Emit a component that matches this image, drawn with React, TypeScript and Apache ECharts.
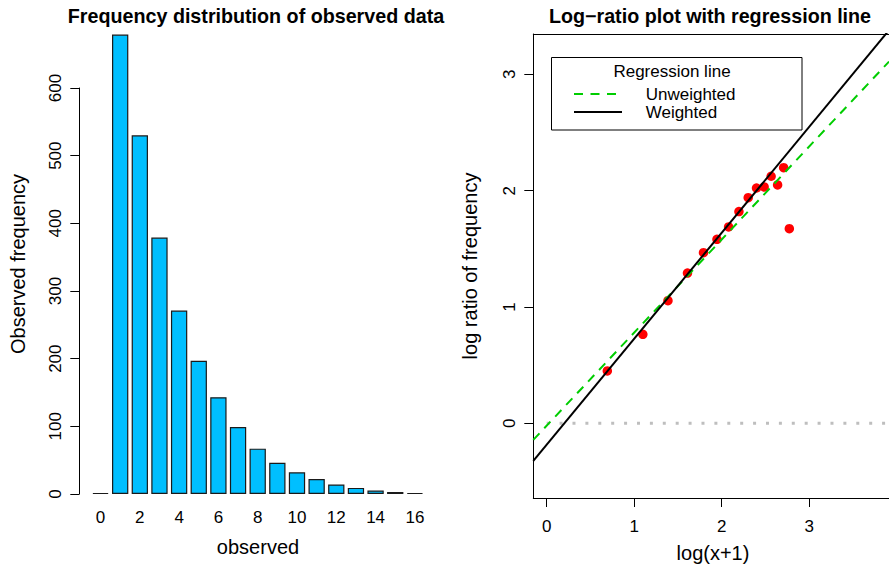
import React, { useEffect, useRef } from 'react';
import * as echarts from 'echarts';

// ---- Left panel data ----
const categories = ['0', '1', '2', '3', '4', '5', '6', '7', '8', '9', '10', '11', '12', '13', '14', '15', '16'];
const observedFreq = [0, 679, 530, 379, 271, 197, 143, 99, 67, 46, 32, 22, 14, 9, 5, 3, 1];
const leftYTicks = [0, 100, 200, 300, 400, 500, 600];

// ---- Right panel data ----
const logX = [0.693, 1.099, 1.386, 1.609, 1.792, 1.946, 2.079, 2.197, 2.303, 2.398, 2.485, 2.565, 2.639, 2.708, 2.773];
const logRatio = [0.45, 0.765, 1.054, 1.292, 1.467, 1.582, 1.688, 1.82, 1.94, 2.023, 2.032, 2.124, 2.049, 2.198, 1.673];
const rightXTicks = [0, 1, 2, 3];
const rightYTicks = [0, 1, 2, 3];
// regression lines: [intercept, slope]
const weightedFit = [-0.184, 0.911];
const unweightedFit = [-0.02, 0.8];

const FONT = 'Liberation Sans, Arial, Helvetica, sans-serif';
const X_MIN = -0.153;
const X_MAX = 3.912;
const Y_MIN = -0.642;
const Y_MAX = 3.347;

function fitLine(fit: number[]) {
  return [
    [X_MIN, fit[0] + fit[1] * X_MIN],
    [X_MAX, fit[0] + fit[1] * X_MAX],
  ];
}

function txt(text: string, x: number, y: number, size: number, opts: any = {}) {
  return {
    type: 'text',
    x,
    y,
    rotation: opts.rotation || 0,
    style: {
      text,
      fill: '#000',
      fontSize: size,
      fontFamily: FONT,
      fontWeight: opts.bold ? 'bold' : 'normal',
      align: opts.align || 'center',
      verticalAlign: 'middle',
      textAlign: opts.align || 'center',
      textVerticalAlign: 'middle',
    },
    z: 100,
  };
}

export default function App() {
  const ref = useRef<HTMLDivElement>(null);
  useEffect(() => {
    const chart = echarts.init(ref.current!, null, { renderer: 'svg' });
    const axisLineStyle = { color: '#000', width: 1 };
    const option: any = {
      animation: false,
      backgroundColor: '#fff',
      textStyle: { fontFamily: FONT },
      grid: [
        { left: 90.7, top: 88, width: 334, height: 406 },
        { left: 533.3, top: 34, right: 0, height: 464 },
      ],
      xAxis: [
        {
          type: 'category',
          gridIndex: 0,
          data: categories,
          axisLine: { show: false },
          axisTick: { show: false },
          axisLabel: { interval: 1, margin: 15, fontSize: 17, color: '#000', fontFamily: FONT },
          splitLine: { show: false },
        },
        {
          type: 'value',
          gridIndex: 1,
          min: X_MIN,
          max: X_MAX,
          axisLine: { show: true, onZero: false, lineStyle: axisLineStyle },
          axisTick: { show: true, length: 9, lineStyle: axisLineStyle, customValues: rightXTicks },
          axisLabel: { margin: 20, fontSize: 17, color: '#000', fontFamily: FONT, customValues: rightXTicks },
          splitLine: { show: false },
        },
        {
          type: 'value',
          gridIndex: 1,
          position: 'top',
          min: X_MIN,
          max: X_MAX,
          axisLine: { show: true, onZero: false, lineStyle: axisLineStyle },
          axisTick: { show: false },
          axisLabel: { show: false },
          splitLine: { show: false },
        },
      ],
      yAxis: [
        {
          type: 'value',
          gridIndex: 0,
          min: 0,
          max: 600,
          interval: 100,
          offset: 11.4,
          axisLine: { show: true, lineStyle: axisLineStyle },
          axisTick: { show: true, length: 9, lineStyle: axisLineStyle, customValues: leftYTicks },
          axisLabel: { rotate: 90, margin: 15, fontSize: 17, color: '#000', fontFamily: FONT, customValues: leftYTicks },
          splitLine: { show: false },
        },
        {
          type: 'value',
          gridIndex: 1,
          min: Y_MIN,
          max: Y_MAX,
          axisLine: { show: true, onZero: false, lineStyle: axisLineStyle },
          axisTick: { show: true, length: 9, lineStyle: axisLineStyle, customValues: rightYTicks },
          axisLabel: { rotate: 90, margin: 15, fontSize: 17, color: '#000', fontFamily: FONT, customValues: rightYTicks },
          splitLine: { show: false },
        },
      ],
      series: [
        {
          type: 'bar',
          name: 'Observed frequency',
          xAxisIndex: 0,
          yAxisIndex: 0,
          data: observedFreq,
          barCategoryGap: '17%',
          barMinHeight: 1,
          clip: false,
          itemStyle: { color: '#00BFFF', borderColor: '#1a1a1a', borderWidth: 1.2 },
        },
        {
          type: 'line',
          name: 'zero',
          xAxisIndex: 1,
          yAxisIndex: 1,
          data: [[0, 0], [X_MAX, 0]],
          symbol: 'none',
          lineStyle: { color: '#bebebe', width: 3, type: [3, 9.9] },
          z: 1,
        },
        {
          type: 'scatter',
          name: 'log ratio',
          xAxisIndex: 1,
          yAxisIndex: 1,
          data: logX.map((x, i) => [x, logRatio[i]]),
          symbol: 'circle',
          symbolSize: 9.5,
          itemStyle: { color: '#FF0000', opacity: 1 },
          z: 2,
        },
        {
          type: 'line',
          name: 'Unweighted',
          xAxisIndex: 1,
          yAxisIndex: 1,
          data: fitLine(unweightedFit),
          symbol: 'none',
          clip: true,
          lineStyle: { color: '#00CD00', width: 2, type: [9, 7] },
          z: 3,
        },
        {
          type: 'line',
          name: 'Weighted',
          xAxisIndex: 1,
          yAxisIndex: 1,
          data: fitLine(weightedFit),
          symbol: 'none',
          clip: true,
          lineStyle: { color: '#000', width: 2 },
          z: 4,
        },
      ],
      graphic: [
        txt('Frequency distribution of observed data', 256, 16, 19.7, { bold: true }),
        txt('Log\u2212ratio plot with regression line', 710, 16, 19.7, { bold: true }),
        txt('observed', 258, 547, 20),
        txt('log(x+1)', 713, 553, 20),
        txt('Observed frequency', 18, 264, 20, { rotation: Math.PI / 2 }),
        txt('log ratio of frequency', 470, 266, 20, { rotation: Math.PI / 2 }),
        {
          type: 'rect',
          shape: { x: 551.5, y: 57.5, width: 250.5, height: 72.5 },
          style: { fill: '#fff', stroke: '#000', lineWidth: 1 },
          z: 90,
        },
        txt('Regression line', 672, 71, 17),
        {
          type: 'line',
          shape: { x1: 574, y1: 94, x2: 622, y2: 94 },
          style: { stroke: '#00CD00', lineWidth: 2, lineDash: [9, 7.5] },
          z: 100,
        },
        {
          type: 'line',
          shape: { x1: 574, y1: 112, x2: 622, y2: 112 },
          style: { stroke: '#000', lineWidth: 2 },
          z: 100,
        },
        txt('Unweighted', 645.7, 94, 17, { align: 'left' }),
        txt('Weighted', 645.7, 112, 17, { align: 'left' }),
      ],
    };
    chart.setOption(option);
    return () => chart.dispose();
  }, []);
  return (
    <div
      ref={ref}
      style={{ position: 'fixed', left: 0, top: 0, width: 889, height: 571, background: '#fff' }}
    />
  );
}
